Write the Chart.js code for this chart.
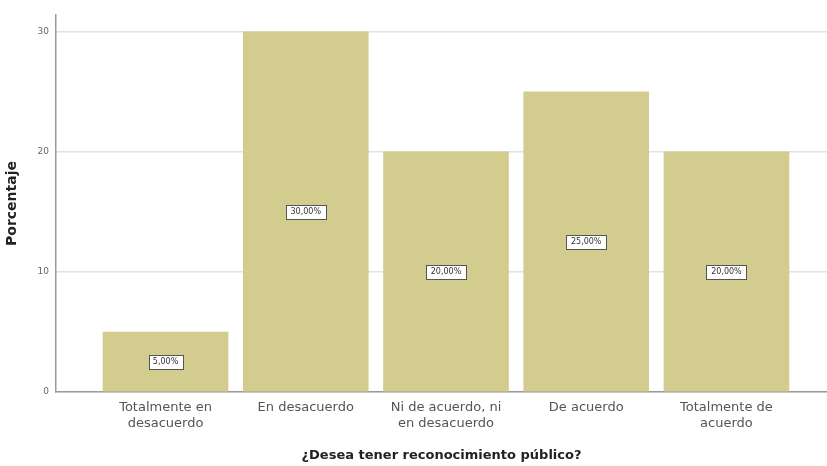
<!DOCTYPE html>
<html>
<head>
<meta charset="utf-8">
<script src="https://cdn.jsdelivr.net/npm/chart.js@4/dist/chart.umd.min.js"></script>
<style>
html,body{margin:0;padding:0;background:#fff;}
#wrap{width:827px;height:466px;position:relative;}
</style>
</head>
<body>
<div id="wrap"><canvas id="c" width="827" height="466"></canvas></div>
<script>
const categories = [
  ["Totalmente en", "desacuerdo"],
  ["En desacuerdo"],
  ["Ni de acuerdo, ni", "en desacuerdo"],
  ["De acuerdo"],
  ["Totalmente de", "acuerdo"]
];
const percentages = [5, 30, 20, 25, 20];
const yTicks = [0, 10, 20, 30];
const xTitle = "¿Desea tener reconocimiento público?";
const yTitle = "Porcentaje";

const FONT = '"DejaVu Sans", Verdana, sans-serif';
const points = percentages.map((v, i) => ({x: i, y: v}));

const labelPlugin = {
  id: 'boxLabels',
  afterDatasetsDraw(chart) {
    const ctx = chart.ctx;
    const meta = chart.getDatasetMeta(0);
    ctx.save();
    ctx.font = '8px ' + FONT;
    ctx.textAlign = 'center';
    ctx.textBaseline = 'middle';
    meta.data.forEach((bar, i) => {
      const txt = percentages[i].toFixed(2).replace('.', ',') + '%';
      const cx = bar.x;
      const cy = (bar.y + bar.base) / 2;
      const w = Math.round(ctx.measureText(txt).width + 9);
      const h = 14;
      const x0 = Math.round(cx - w / 2) + 0.5;
      const y0 = Math.round(cy - h / 2) + 0.5;
      ctx.fillStyle = '#ffffff';
      ctx.fillRect(x0, y0, w, h);
      ctx.strokeStyle = '#555555';
      ctx.lineWidth = 1;
      ctx.strokeRect(x0, y0, w, h);
      ctx.fillStyle = '#333333';
      ctx.fillText(txt, cx, cy + 0.5);
    });
    ctx.restore();
  }
};

new Chart(document.getElementById('c'), {
  type: 'bar',
  data: {
    datasets: [{
      data: points,
      backgroundColor: '#d3cc8f',
      borderWidth: 0,
      barThickness: 125
    }]
  },
  options: {
    responsive: false,
    animation: false,
    events: [],
    layout: {padding: {top: 15, right: 0, left: 0, bottom: 0}},
    plugins: {legend: {display: false}, tooltip: {enabled: false}},
    scales: {
      x: {
        type: 'linear',
        offset: false,
        min: -0.781,
        max: 4.717,
        afterBuildTicks: (axis) => { axis.ticks = categories.map((_, i) => ({value: i})); },
        afterFit: (axis) => { axis.height = 74; },
        grid: {display: false, drawTicks: false, offset: false},
        border: {display: true, color: '#9a9a9a', width: 1.5},
        ticks: {
          callback: (v) => categories[v],
          color: '#555555',
          font: {family: FONT, size: 13, lineHeight: '16px'},
          padding: 8,
          maxRotation: 0,
          autoSkip: false
        },
        title: {
          display: true,
          text: xTitle,
          color: '#222222',
          font: {family: FONT, size: 13, weight: 'bold'},
          padding: {top: 0, bottom: 3}
        }
      },
      y: {
        min: 0,
        max: 31.4,
        afterBuildTicks: (axis) => { axis.ticks = yTicks.map(v => ({value: v})); },
        afterFit: (axis) => { axis.width = 56; },
        grid: {color: '#e3e3e3', lineWidth: 1.5, drawTicks: false},
        border: {display: true, color: '#9a9a9a', width: 1.5},
        ticks: {
          color: '#666666',
          font: {family: FONT, size: 9},
          padding: 7
        },
        title: {
          display: true,
          text: yTitle,
          color: '#222222',
          font: {family: FONT, size: 14, weight: 'bold'},
          padding: {top: 4, bottom: 0}
        }
      }
    }
  },
  plugins: [labelPlugin]
});
</script>
</body>
</html>
